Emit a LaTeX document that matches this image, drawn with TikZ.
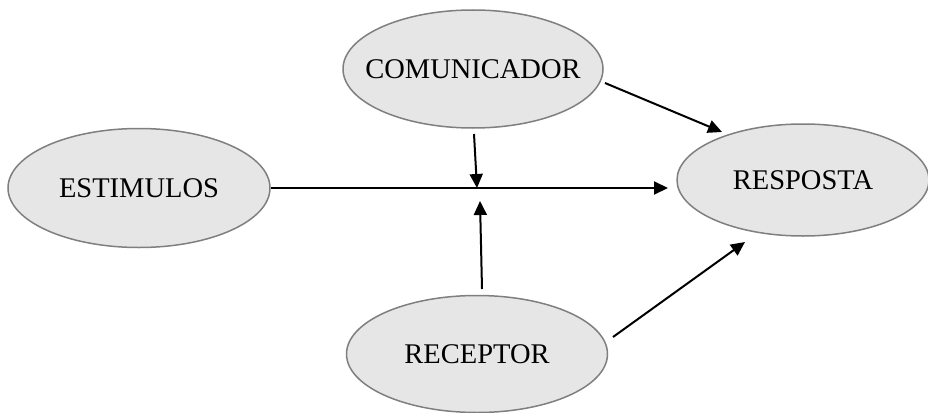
\documentclass[tikz,border=0pt]{standalone}
\usepackage{fontspec}
\setmainfont{Liberation Serif}
\usetikzlibrary{shapes.geometric,arrows.meta}
\definecolor{efill}{HTML}{E6E6E6}
\definecolor{edraw}{HTML}{7F7F7F}
\newcommand{\ovtext}[1]{\makebox[0pt][c]{#1}}
\tikzset{
  oval/.style={ellipse, draw=edraw, fill=efill, line width=1.5pt, inner sep=0pt, font=\fontsize{28.5}{32}\selectfont},
  arr/.style={line width=2pt, -{Triangle[length=14pt,width=13pt]}}
}
\begin{document}
\begin{tikzpicture}[x=1pt,y=-1pt]
\useasboundingbox (0,0) rectangle (928,412);
\node[oval, minimum width=260pt, minimum height=118pt] (com) at (473,69) {\ovtext{COMUNICADOR}};
\node[oval, minimum width=262pt, minimum height=119pt] (est) at (139,188) {\ovtext{ESTIMULOS}};
\node[oval, minimum width=252pt, minimum height=112pt] (resp) at (803,180) {\ovtext{RESPOSTA}};
\node[oval, minimum width=261pt, minimum height=117pt] (rec) at (477,354) {\ovtext{RECEPTOR}};
\coordinate (j) at (477,188);
\coordinate (jb) at (480,201);
\coordinate (hend) at (668,188);
\coordinate (cs) at (474,134);
\coordinate (rs) at (482,289);
\coordinate (ca) at (605,83);
\coordinate (cb) at (722,132);
\coordinate (ra) at (613,337);
\coordinate (rb) at (745,242);
\draw[line width=2pt] (est.east |- j) -- (j);
\draw[arr] (j) -- (hend);
\draw[arr] (cs) -- (j);
\draw[arr] (rs) -- (jb);
\draw[arr] (ca) -- (cb);
\draw[arr] (ra) -- (rb);
\end{tikzpicture}
\end{document}
